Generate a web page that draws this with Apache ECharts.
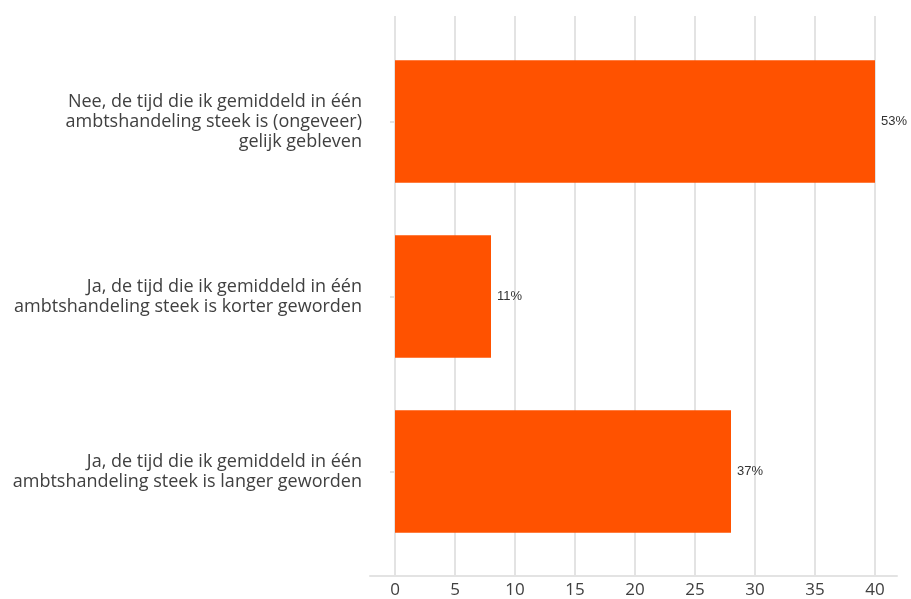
<!DOCTYPE html>
<html>
<head>
<meta charset="utf-8">
<script src="https://cdn.jsdelivr.net/npm/echarts@6/dist/echarts.min.js"></script>
<style>
  html, body { margin: 0; padding: 0; background: #fff; }
  #chart { width: 911px; height: 599px; }
</style>
</head>
<body>
<div id="chart"></div>
<script>
// Answer options, top to bottom
const categories = [
  'Nee, de tijd die ik gemiddeld in één\nambtshandeling steek is (ongeveer)\ngelijk gebleven',
  'Ja, de tijd die ik gemiddeld in één\nambtshandeling steek is korter geworden',
  'Ja, de tijd die ik gemiddeld in één\nambtshandeling steek is langer geworden'
];
// Number of respondents per option
const counts = [40, 8, 28];
// Value axis range and step
const axisMin = 0;
const axisMax = 40;
const axisStep = 5;

const total = counts.reduce((a, b) => a + b, 0);
const font = '"Open Sans", "Noto Sans", sans-serif';

const chart = echarts.init(document.getElementById('chart'), null, { renderer: 'canvas' });
chart.setOption({
  animation: false,
  grid: [
    { left: 395, right: 36, top: 34, bottom: 40 },
    { left: 395, right: 36, top: 16, bottom: 23 },
    { left: 370, right: 14, top: 16, bottom: 23 }
  ],
  xAxis: [
    { gridIndex: 0, type: 'value', min: axisMin, max: axisMax, interval: axisStep, show: false },
    {
      gridIndex: 1, type: 'value', min: axisMin, max: axisMax, interval: axisStep,
      axisLine: { show: false }, axisTick: { show: false },
      axisLabel: { color: '#404040', fontSize: 17, fontFamily: font, margin: 6 },
      splitLine: { show: true, lineStyle: { color: '#e3e3e3', width: 2 } }
    },
    {
      gridIndex: 2, type: 'value', min: 0, max: 1,
      axisLine: { show: true, lineStyle: { color: '#e3e3e3', width: 2 } },
      axisTick: { show: false }, axisLabel: { show: false }, splitLine: { show: false }
    }
  ],
  yAxis: [
    {
      gridIndex: 0, type: 'category', data: categories, inverse: true, offset: 25,
      axisLine: { show: false },
      axisTick: { show: true, alignWithLabel: true, length: 5, lineStyle: { color: '#e3e3e3', width: 2 } },
      axisLabel: { color: '#404040', fontSize: 18, fontFamily: font, lineHeight: 20, align: 'right', margin: 8 }
    },
    { gridIndex: 1, type: 'value', show: false },
    { gridIndex: 2, type: 'value', show: false }
  ],
  series: [
    {
      type: 'bar',
      xAxisIndex: 0,
      yAxisIndex: 0,
      data: counts,
      barWidth: '70%',
      itemStyle: { color: '#ff5200' },
      label: {
        show: true,
        position: 'right',
        distance: 6,
        color: '#333',
        fontSize: 13,
        fontFamily: '"Liberation Sans", Arial, sans-serif',
        formatter: p => Math.round(p.value / total * 100) + '%'
      }
    }
  ]
});
</script>
</body>
</html>
